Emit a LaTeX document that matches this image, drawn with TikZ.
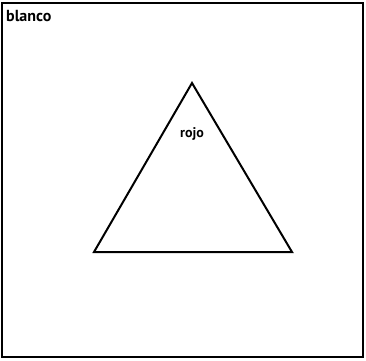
\documentclass[tikz,border=0pt]{standalone}
\usepackage{fontspec}
\setmainfont{PT Sans}
\begin{document}
\begin{tikzpicture}[x=1pt,y=-1pt,
  framebox/.style={draw=black,line width=1.5pt},
  tri/.style={draw=black,line width=2pt,line join=miter},
  lbl/.style={font=\bfseries,inner sep=0pt,anchor=west}]
\useasboundingbox (0,0) rectangle (366,360);
\draw[framebox] (2,3) rectangle (363,357);
\coordinate (A) at (192,83);
\coordinate (B) at (94,252);
\coordinate (C) at (292,252);
\draw[tri] (A) -- (B) -- (C) -- cycle;
\node[lbl,font=\bfseries\fontsize{16}{18}\selectfont] (blanco) at (6,16) {blanco};
\node[font=\bfseries\fontsize{14}{16}\selectfont,inner sep=0pt] (rojo) at (192,134) {rojo};
\end{tikzpicture}
\end{document}
